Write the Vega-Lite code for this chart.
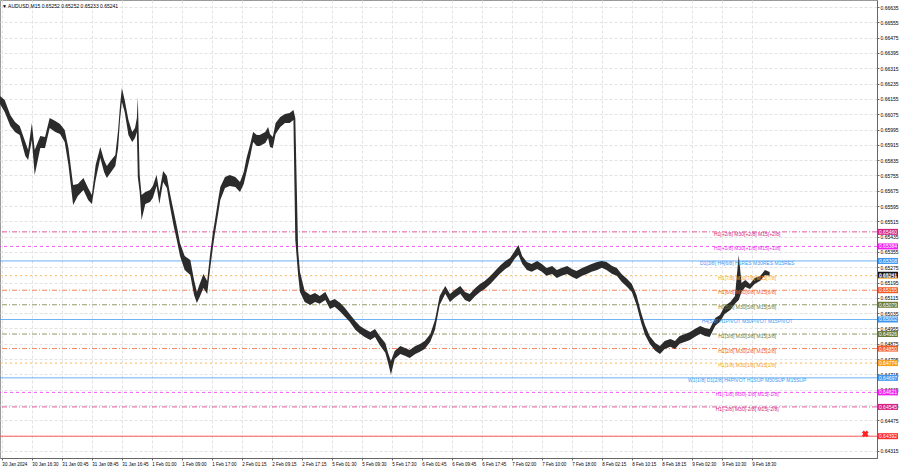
{
  "$schema": "https://vega.github.io/schema/vega-lite/v6.json",
  "width": 877,
  "height": 458,
  "autosize": {"type": "none"},
  "padding": {"left": 0, "top": 0, "right": 23, "bottom": 10},
  "background": "#ffffff",
  "config": {
    "view": {"stroke": "#9a9a9a", "strokeWidth": 1},
    "font": "Liberation Sans",
    "axis": {"labelFont": "Liberation Sans", "labelFontSize": 5, "labelColor": "#000000", "domainColor": "#666666", "tickColor": "#666666", "tickSize": 2, "gridColor": "#e2e2e2", "gridDash": [3, 2], "gridWidth": 1, "title": null, "labelOverlap": false, "tickCount": 100}
  },
  "title": {"text": "▼ AUDUSD,M15  0.65252 0.65252 0.65233 0.65241", "anchor": "start", "frame": "group", "orient": "top", "offset": -9, "fontSize": 5, "fontWeight": "normal", "font": "Liberation Sans", "color": "#000000", "dx": 2},
  "datasets": {
    "px": [
      {"b":0,"h":0.66170,"l":0.66128},{"b":5,"h":0.66149,"l":0.66086},{"b":11,"h":0.66071,"l":0.66013},{"b":16,"h":0.66034,"l":0.65982},{"b":21,"h":0.66013,"l":0.65966},{"b":27,"h":0.65930,"l":0.65857},{"b":30,"h":0.65888,"l":0.65836},{"b":34,"h":0.66029,"l":0.65940},{"b":37,"h":0.65888,"l":0.65757},{"b":43,"h":0.65961,"l":0.65898},{"b":48,"h":0.65956,"l":0.65898},{"b":53,"h":0.66055,"l":0.66003},{"b":59,"h":0.66039,"l":0.65982},{"b":64,"h":0.66024,"l":0.65971},{"b":69,"h":0.65992,"l":0.65930},{"b":73,"h":0.65898,"l":0.65810},{"b":78,"h":0.65705,"l":0.65601},{"b":83,"h":0.65710,"l":0.65648},{"b":89,"h":0.65742,"l":0.65679},{"b":94,"h":0.65689,"l":0.65627},{"b":98,"h":0.65653,"l":0.65606},{"b":102,"h":0.65810,"l":0.65731},{"b":107,"h":0.65904,"l":0.65846},{"b":111,"h":0.65836,"l":0.65773},{"b":114,"h":0.65804,"l":0.65742},{"b":117,"h":0.65825,"l":0.65762},{"b":123,"h":0.65862,"l":0.65804},{"b":126,"h":0.65992,"l":0.65898},{"b":128,"h":0.66118,"l":0.66045},{"b":130,"h":0.66212,"l":0.66139},{"b":133,"h":0.66149,"l":0.66086},{"b":137,"h":0.66045,"l":0.65966},{"b":141,"h":0.65982,"l":0.65930},{"b":144,"h":0.66003,"l":0.65951},{"b":146,"h":0.66055,"l":0.65982},{"b":147,"h":0.66165,"l":0.65747},{"b":149,"h":0.65757,"l":0.65668},{"b":151,"h":0.65653,"l":0.65522},{"b":155,"h":0.65668,"l":0.65606},{"b":160,"h":0.65679,"l":0.65616},{"b":163,"h":0.65700,"l":0.65637},{"b":167,"h":0.65757,"l":0.65700},{"b":170,"h":0.65668,"l":0.65606},{"b":174,"h":0.65778,"l":0.65721},{"b":178,"h":0.65752,"l":0.65689},{"b":181,"h":0.65668,"l":0.65601},{"b":185,"h":0.65574,"l":0.65496},{"b":189,"h":0.65480,"l":0.65407},{"b":192,"h":0.65402,"l":0.65334},{"b":197,"h":0.65334,"l":0.65261},{"b":203,"h":0.65313,"l":0.65235},{"b":207,"h":0.65209,"l":0.65130},{"b":210,"h":0.65146,"l":0.65088},{"b":213,"h":0.65188,"l":0.65120},{"b":217,"h":0.65240,"l":0.65167},{"b":221,"h":0.65203,"l":0.65135},{"b":224,"h":0.65339,"l":0.65261},{"b":227,"h":0.65454,"l":0.65376},{"b":229,"h":0.65512,"l":0.65444},{"b":233,"h":0.65637,"l":0.65564},{"b":235,"h":0.65695,"l":0.65627},{"b":240,"h":0.65747,"l":0.65689},{"b":245,"h":0.65757,"l":0.65700},{"b":251,"h":0.65747,"l":0.65695},{"b":256,"h":0.65721,"l":0.65668},{"b":260,"h":0.65773,"l":0.65710},{"b":263,"h":0.65846,"l":0.65773},{"b":267,"h":0.65919,"l":0.65857},{"b":270,"h":0.65982,"l":0.65930},{"b":274,"h":0.65966,"l":0.65909},{"b":277,"h":0.65966,"l":0.65909},{"b":283,"h":0.65982,"l":0.65924},{"b":286,"h":0.66008,"l":0.65951},{"b":288,"h":0.65971,"l":0.65904},{"b":291,"h":0.65956,"l":0.65898},{"b":294,"h":0.66029,"l":0.65971},{"b":299,"h":0.66060,"l":0.66008},{"b":304,"h":0.66076,"l":0.66029},{"b":309,"h":0.66081,"l":0.66029},{"b":313,"h":0.66097,"l":0.66045},{"b":315,"h":0.66055,"l":0.65418},{"b":318,"h":0.65365,"l":0.65235},{"b":320,"h":0.65250,"l":0.65146},
      {"b":325,"h":0.65151,"l":0.65094},{"b":331,"h":0.65130,"l":0.65078},{"b":336,"h":0.65140,"l":0.65094},{"b":341,"h":0.65125,"l":0.65084},{"b":347,"h":0.65146,"l":0.65104},{"b":352,"h":0.65099,"l":0.65057},{"b":357,"h":0.65109,"l":0.65068},{"b":363,"h":0.65088,"l":0.65042},{"b":368,"h":0.65062,"l":0.65016},{"b":373,"h":0.65031,"l":0.64990},{"b":379,"h":0.64994,"l":0.64948},{"b":384,"h":0.64968,"l":0.64927},{"b":389,"h":0.64952,"l":0.64911},{"b":395,"h":0.64937,"l":0.64895},{"b":400,"h":0.64952,"l":0.64911},{"b":405,"h":0.64916,"l":0.64869},{"b":411,"h":0.64879,"l":0.64828},{"b":414,"h":0.64827,"l":0.64775},{"b":417,"h":0.64785,"l":0.64713},{"b":421,"h":0.64837,"l":0.64796},{"b":427,"h":0.64863,"l":0.64822},{"b":432,"h":0.64853,"l":0.64812},{"b":437,"h":0.64843,"l":0.64801},{"b":443,"h":0.64863,"l":0.64822},{"b":448,"h":0.64874,"l":0.64833},{"b":453,"h":0.64890,"l":0.64848},{"b":459,"h":0.64926,"l":0.64885},{"b":464,"h":0.64999,"l":0.64948},{"b":469,"h":0.65125,"l":0.65078},{"b":475,"h":0.65177,"l":0.65136},{"b":480,"h":0.65135,"l":0.65094},{"b":485,"h":0.65156,"l":0.65115},{"b":491,"h":0.65177,"l":0.65136},{"b":496,"h":0.65146,"l":0.65104},{"b":501,"h":0.65135,"l":0.65094},{"b":507,"h":0.65167,"l":0.65125},{"b":512,"h":0.65187,"l":0.65146},{"b":517,"h":0.65203,"l":0.65162},{"b":523,"h":0.65229,"l":0.65188},{"b":528,"h":0.65255,"l":0.65214},{"b":533,"h":0.65281,"l":0.65240},{"b":539,"h":0.65308,"l":0.65266},{"b":544,"h":0.65323,"l":0.65282},{"b":549,"h":0.65360,"l":0.65319},{"b":553,"h":0.65392,"l":0.65340},{"b":557,"h":0.65334,"l":0.65293},{"b":562,"h":0.65302,"l":0.65261},{"b":567,"h":0.65292,"l":0.65251},{"b":573,"h":0.65308,"l":0.65266},{"b":578,"h":0.65292,"l":0.65251},{"b":583,"h":0.65271,"l":0.65230},{"b":589,"h":0.65281,"l":0.65240},{"b":594,"h":0.65261,"l":0.65219},{"b":599,"h":0.65271,"l":0.65230},{"b":605,"h":0.65281,"l":0.65240},{"b":610,"h":0.65266,"l":0.65225},{"b":615,"h":0.65255,"l":0.65214},{"b":621,"h":0.65271,"l":0.65230},{"b":626,"h":0.65281,"l":0.65240},{"b":631,"h":0.65292,"l":0.65251},{"b":637,"h":0.65302,"l":0.65261},{"b":642,"h":0.65308,"l":0.65272},{"b":647,"h":0.65302,"l":0.65261},{"b":653,"h":0.65281,"l":0.65240},{"b":658,"h":0.65271,"l":0.65230},{"b":663,"h":0.65240,"l":0.65199},{"b":669,"h":0.65214,"l":0.65172},{"b":674,"h":0.65187,"l":0.65146},{"b":679,"h":0.65130,"l":0.65078},{"b":684,"h":0.65036,"l":0.64984},{"b":688,"h":0.64973,"l":0.64922},{"b":693,"h":0.64916,"l":0.64875},{"b":699,"h":0.64879,"l":0.64838},{"b":704,"h":0.64863,"l":0.64822},{"b":709,"h":0.64890,"l":0.64848},{"b":715,"h":0.64900,"l":0.64859},{"b":720,"h":0.64890,"l":0.64848},{"b":725,"h":0.64916,"l":0.64875},{"b":731,"h":0.64926,"l":0.64885},{"b":736,"h":0.64937,"l":0.64895},{"b":741,"h":0.64952,"l":0.64911},{"b":747,"h":0.64968,"l":0.64927},{"b":752,"h":0.64958,"l":0.64916},{"b":757,"h":0.64952,"l":0.64911},{"b":763,"h":0.65010,"l":0.64969},{"b":768,"h":0.65025,"l":0.64990},{"b":773,"h":0.65072,"l":0.65031},{"b":779,"h":0.65093,"l":0.65052},{"b":784,"h":0.65125,"l":0.65084},{"b":788,"h":0.65339,"l":0.65104},{"b":791,"h":0.65193,"l":0.65146},{"b":795,"h":0.65208,"l":0.65172},{"b":800,"h":0.65187,"l":0.65162},{"b":805,"h":0.65219,"l":0.65188},{"b":811,"h":0.65229,"l":0.65204},{"b":816,"h":0.65261,"l":0.65235},{"b":821,"h":0.65250,"l":0.65230}
    ],
    "lv": [
      {"v":0.65460,"g":"+2/8","t":"H1[+2/8] M30[+2/8] M15[+2/8]"},
      {"v":0.65384,"g":"+1/8","t":"H1[+1/8] M30[+1/8] M15[+1/8]"},
      {"v":0.65308,"g":"RES","t":"D1[3/8] H4[6/8] H1RES M30RES M15RES"},
      {"v":0.65231,"g":"7/8","t":"H1[7/8] M30[7/8] M15[7/8]"},
      {"v":0.65155,"g":"6/8","t":"H1[6/8] M30[6/8] M15[6/8]"},
      {"v":0.65079,"g":"5/8","t":"H1[5/8] M30[5/8] M15[5/8]"},
      {"v":0.65002,"g":"PIVOT","t":"H4[5/8] H1PIVOT M30PIVOT M15PIVOT"},
      {"v":0.64926,"g":"3/8","t":"H1[3/8] M30[3/8] M15[3/8]"},
      {"v":0.64850,"g":"2/8","t":"H1[2/8] M30[2/8] M15[2/8]"},
      {"v":0.64774,"g":"1/8","t":"H1[1/8] M30[1/8] M15[1/8]"},
      {"v":0.64697,"g":"SUP","t":"W1[1/8] D1[2/8] H4PIVOT H1SUP M30SUP M15SUP"},
      {"v":0.64621,"g":"-1/8","t":"H1[-1/8] M30[-1/8] M15[-1/8]"},
      {"v":0.64545,"g":"-2/8","t":"H1[-2/8] M30[-2/8] M15[-2/8]"},
      {"v":0.64392,"g":"STOP","t":""},
      {"v":0.65241,"g":"BID","t":""}
    ],
    "mk": [{"b":923,"p":0.64404}]
  },
  "layer": [
    {
      "data": {"name": "lv"},
      "transform": [{"filter": "datum.g != 'BID'"}],
      "mark": {"type": "rule", "strokeWidth": 1, "opacity": 0.75},
      "encoding": {
        "y": {"field": "v", "type": "quantitative", "scale": {"domain": [0.64278, 0.66672], "nice": false, "zero": false},
          "axis": {"orient": "right", "values": [0.66635,0.66555,0.66475,0.66395,0.66315,0.66235,0.66155,0.66075,0.65995,0.65915,0.65835,0.65755,0.65675,0.65595,0.65515,0.65435,0.65355,0.65275,0.65195,0.65115,0.65035,0.64955,0.64875,0.64795,0.64715,0.64635,0.64555,0.64475,0.64395,0.64315], "tickCount": 100, "labelOverlap": false, "format": ".5f", "labelExpr": "abs(datum.value - 0.64395) < 0.000001 ? '' : datum.label", "labelPadding": 1, "grid": true}},
        "color": {"field": "g", "type": "nominal", "legend": null,
          "scale": {"domain": ["+2/8","+1/8","RES","7/8","6/8","5/8","PIVOT","3/8","2/8","1/8","SUP","-1/8","-2/8","STOP","BID"],
                    "range": ["#d4237f","#ee22ee","#3d97f0","#f7a01c","#f25a25","#6b7b35","#3d97f0","#6b7b35","#f25a25","#f7a01c","#3d97f0","#ee22ee","#d4237f","#ff2a2a","#111111"]}},
        "strokeDash": {"field": "g", "type": "nominal", "legend": null,
          "scale": {"domain": ["+2/8","+1/8","RES","7/8","6/8","5/8","PIVOT","3/8","2/8","1/8","SUP","-1/8","-2/8","STOP"],
                    "range": [[5,2,1,2],[3,3],[1,0],[2,3],[5,2,1,2],[5,2,1,2],[1,0],[5,2,1,2],[5,2,1,2],[2,3],[1,0],[3,3],[5,2,1,2],[1,0]]}}
      }
    },
    {
      "data": {"name": "px"},
      "mark": {"type": "area", "color": "#2b2b2b", "interpolate": "linear"},
      "encoding": {
        "x": {"field": "b", "type": "quantitative", "scale": {"domain": [0, 935.5], "nice": false, "zero": false},
          "axis": {"orient": "bottom", "values": [2,34,66,98,130,162,194,226,258,290,322,354,386,418,450,482,514,546,578,610,642,674,706,738,770,802], "tickCount": 100,
            "labelExpr": "['30 Jan 2024','30 Jan 16:30','31 Jan 00:45','31 Jan 08:45','31 Jan 16:45','1 Feb 01:00','1 Feb 09:00','1 Feb 17:00','2 Feb 01:15','2 Feb 09:15','2 Feb 17:15','5 Feb 01:30','5 Feb 09:30','5 Feb 17:30','6 Feb 01:45','6 Feb 09:45','6 Feb 17:45','7 Feb 02:00','7 Feb 10:00','7 Feb 18:00','8 Feb 02:15','8 Feb 10:15','8 Feb 18:15','9 Feb 02:30','9 Feb 10:30','9 Feb 18:30'][round((datum.value-2)/32)]",
            "labelAlign": "left", "labelFontSize": 4.5, "labelPadding": 1, "labelOverlap": false, "grid": true}},
        "y": {"field": "h", "type": "quantitative"},
        "y2": {"field": "l"}
      }
    },
    {
      "data": {"name": "lv"},
      "transform": [{"filter": "datum.t != ''"}],
      "mark": {"type": "text", "fontSize": 5, "align": "center", "baseline": "middle", "dy": 2},
      "encoding": {
        "x": {"datum": 797, "type": "quantitative"},
        "y": {"field": "v", "type": "quantitative"},
        "text": {"field": "t"},
        "color": {"field": "g", "type": "nominal", "legend": null}
      }
    },
    {
      "data": {"name": "mk"},
      "mark": {"type": "point", "shape": "cross", "filled": true, "angle": 45, "size": 45, "opacity": 1},
      "encoding": {
        "x": {"field": "b", "type": "quantitative"},
        "y": {"field": "p", "type": "quantitative"},
        "color": {"value": "#ff2020"}
      }
    },
    {
      "data": {"name": "lv"},
      "mark": {"type": "tick", "orient": "vertical", "thickness": 20, "size": 6, "opacity": 1},
      "encoding": {
        "x": {"datum": 947.2, "type": "quantitative"},
        "y": {"field": "v", "type": "quantitative"},
        "yOffset": {"condition": {"test": "datum.g == '7/8'", "value": 5}, "value": {"expr": "datum.g == 'BID' ? 1 : 0"}},
        "color": {"field": "g", "type": "nominal", "legend": null}
      }
    },
    {
      "data": {"name": "lv"},
      "mark": {"type": "text", "fontSize": 5, "align": "center", "baseline": "middle", "color": "#ffffff"},
      "encoding": {
        "x": {"datum": 947.2, "type": "quantitative"},
        "y": {"field": "v", "type": "quantitative"},
        "yOffset": {"condition": {"test": "datum.g == '7/8'", "value": 5}, "value": {"expr": "datum.g == 'BID' ? 1 : 0"}},
        "text": {"field": "v", "format": ".5f"}
      }
    }
  ]
}
